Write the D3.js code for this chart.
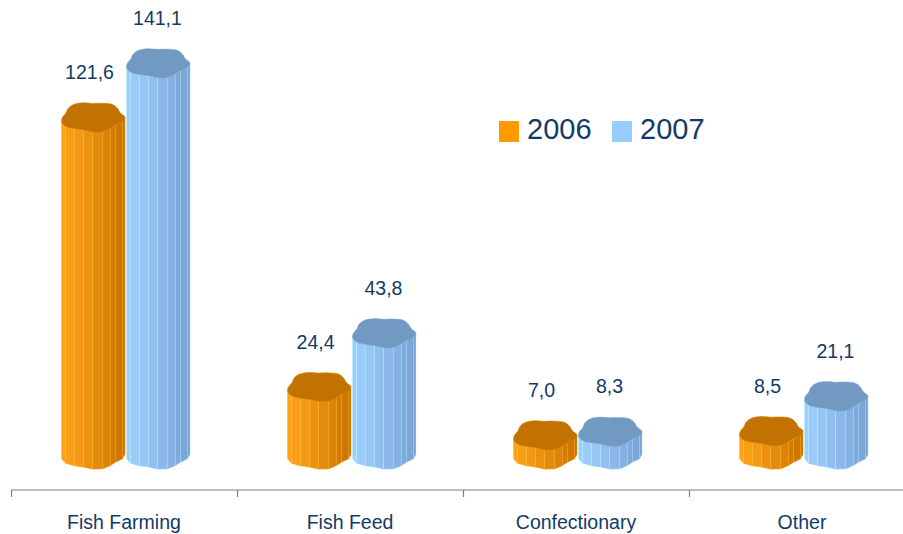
<!DOCTYPE html>
<html>
<head>
<meta charset="utf-8">
<script src="https://cdn.jsdelivr.net/npm/d3@7"></script>
<style>
  html, body { margin: 0; padding: 0; background: #fff; }
  svg { display: block; font-family: 'Liberation Sans', Arial, sans-serif; }
</style>
</head>
<body>
<div id="chart"></div>
<script>
// Chart data
const categories = ['Fish Farming', 'Fish Feed', 'Confectionary', 'Other'];
const seriesNames = ['2006', '2007'];
const values2006 = [121.6, 24.4, 7.0, 8.5];
const values2007 = [141.1, 43.8, 8.3, 21.1];

const width = 903;
const height = 534;

const palette = {
  '2006': { light: '#ffa31a', dark: '#c97400', top: '#c27200', legend: '#ff9900' },
  '2007': { light: '#9fcfff', dark: '#78a3d2', top: '#7299c2', legend: '#99ccff' }
};
const textColor = '#123a68';

// irregular outline of the cylinders (purely decorative)
const wobble = [1.00, 0.97, 0.88, 0.93, 1.02, 0.99, 0.90, 0.95, 1.03, 1.00,
                0.92, 0.86, 0.94, 1.02, 1.00, 0.91, 0.97, 1.04, 0.96, 0.90];

const svg = d3.select('#chart').append('svg')
  .attr('width', width)
  .attr('height', height);

const x = d3.scaleBand()
  .domain(categories)
  .range([11, 915])
  .paddingInner(0)
  .paddingOuter(0);

const xSub = d3.scaleBand()
  .domain(seriesNames)
  .range([0, x.bandwidth()])
  .paddingInner(0)
  .paddingOuter(0.74);

const y = d3.scaleLinear()
  .domain([0, 150])
  .range([454.4, 38.3]);

const fmt = v => d3.format('.1f')(v).replace('.', ',');

// Axis line with ticks at category boundaries
const axisY = 490;
svg.append('line')
  .attr('x1', x.range()[0]).attr('x2', x.range()[1])
  .attr('y1', axisY).attr('y2', axisY)
  .attr('stroke', '#808080').attr('stroke-width', 1.2);

svg.selectAll('.tick')
  .data(categories.concat(['end']))
  .enter()
  .append('line')
  .attr('x1', (d, i) => x.range()[0] + i * x.step() + 0.5)
  .attr('x2', (d, i) => x.range()[0] + i * x.step() + 0.5)
  .attr('y1', axisY).attr('y2', axisY + 7)
  .attr('stroke', '#808080').attr('stroke-width', 1.2);

svg.selectAll('.cat-label')
  .data(categories)
  .enter()
  .append('text')
  .attr('x', d => x(d) + x.bandwidth() / 2)
  .attr('y', 529)
  .attr('text-anchor', 'middle')
  .attr('fill', textColor)
  .style('font-size', '19.5px')
  .text(d => d);

// Build bars
const bars = [];
categories.forEach((c, i) => {
  bars.push({ cat: c, series: '2006', value: values2006[i] });
  bars.push({ cat: c, series: '2007', value: values2007[i] });
});

const N = wobble.length;
const ry = 15;

function pt(cx, cy, rx, k) {
  const a = 2 * Math.PI * k / N;
  const r = wobble[k % N];
  return [cx + rx * r * Math.cos(a), cy + ry * r * Math.sin(a)];
}

bars.forEach(b => {
  const cx = x(b.cat) + xSub(b.series) + xSub.bandwidth() / 2 + 1;
  const rx = xSub.bandwidth() / 2;
  const topY = y(b.value);
  const baseY = y(0);
  const col = palette[b.series];
  const g = svg.append('g');

  // side facets (front half only)
  const facets = [];
  for (let k = 0; k < N; k++) {
    const mid = 2 * Math.PI * (k + 0.5) / N;
    if (Math.sin(mid) <= 0) continue;
    facets.push({ k, mid });
  }
  facets.sort((a, b) => Math.sin(a.mid) - Math.sin(b.mid));
  facets.forEach(f => {
    const t1 = pt(cx, topY, rx, f.k), t2 = pt(cx, topY, rx, f.k + 1);
    const b1 = pt(cx, baseY, rx, f.k), b2 = pt(cx, baseY, rx, f.k + 1);
    const t = Math.pow((1 + Math.cos(f.mid)) / 2, 1.2);
    const fill = d3.interpolateRgb(col.light, col.dark)(t);
    g.append('path')
      .attr('d', d3.line()([t1, t2, b2, b1]) + 'Z')
      .attr('fill', fill)
      .attr('stroke', d3.color(fill).brighter(0.6))
      .attr('stroke-width', 0.7)
      .attr('stroke-opacity', 0.55);
  });

  // top face
  const topPts = d3.range(N).map(k => pt(cx, topY, rx, k));
  g.append('path')
    .attr('d', d3.line().curve(d3.curveCatmullRomClosed)(topPts))
    .attr('fill', col.top)
    .attr('stroke', d3.color(col.top).brighter(0.3))
    .attr('stroke-width', 0.6);

  // value label
  svg.append('text')
    .attr('x', cx - (b.series === '2006' ? 3 : 0))
    .attr('y', topY - 38)
    .attr('text-anchor', 'middle')
    .attr('fill', textColor)
    .style('font-size', '19.5px')
    .text(fmt(b.value));
});

// Legend
const legend = svg.append('g').attr('transform', 'translate(499,121)');
const legendX = d3.scaleOrdinal().domain(seriesNames).range([0, 113]);
seriesNames.forEach(s => {
  const lg = legend.append('g').attr('transform', `translate(${legendX(s)},0)`);
  lg.append('rect')
    .attr('width', 20).attr('height', 21)
    .attr('fill', palette[s].legend);
  lg.append('text')
    .attr('x', 28).attr('y', 18)
    .attr('fill', textColor)
    .style('font-size', '29px')
    .text(s);
});
</script>
</body>
</html>
